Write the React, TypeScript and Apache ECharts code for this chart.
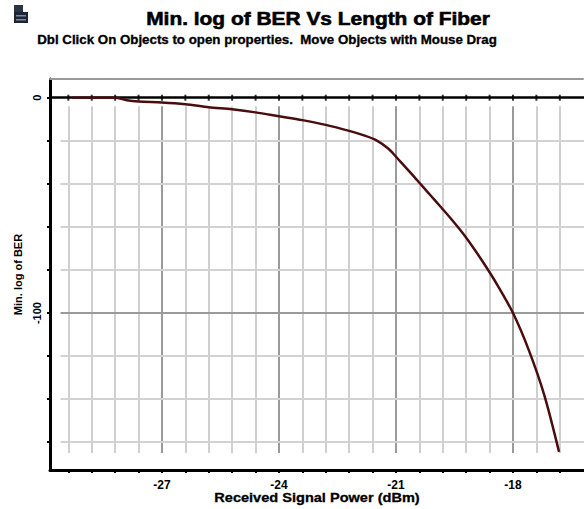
import React, { useEffect, useRef } from "react";
import * as echarts from "echarts";

const powerDbm = [-29.3, -28.2, -27.9, -27.6, -27.0, -26.4, -25.8, -25.2, -24.6, -24.0, -23.4, -22.8, -22.2, -21.8, -21.5, -21.2, -21.0, -20.8, -20.6, -20.4, -20.2, -20.0, -19.6, -19.2, -18.8, -18.4, -18.0, -17.6, -17.2, -16.82];
const minLogBer = [0, 0, -1.2, -1.8, -2.2, -3.0, -4.4, -5.4, -6.8, -8.6, -10.4, -12.6, -15.4, -17.6, -19.8, -23.6, -27.4, -31.4, -35.4, -39.5, -43.6, -47.7, -56, -65, -75.5, -87, -100, -117, -138, -164.5];

const xMajorTicks = [-27, -24, -21, -18];
const xMinorTicks = [-29.4, -28.8, -28.2, -27.6, -27, -26.4, -25.8, -25.2, -24.6, -24, -23.4, -22.8, -22.2, -21.6, -21, -20.4, -19.8, -19.2, -18.6, -18, -17.4, -16.8];
const yMajorTicks = [0, -100];
const yMinorTicks = [0, -20, -40, -60, -80, -100, -120, -140, -160];

const X_MIN = -29.87;
const X_MAX = -16.18;
const Y_MIN = -172.9;
const Y_MAX = 8.7;

const FONT = "'Liberation Sans', Arial, sans-serif";

export default function App() {
  const ref = useRef<HTMLDivElement>(null);
  useEffect(() => {
    document.body.style.margin = "0";
    const chart = echarts.init(ref.current!, undefined, { renderer: "svg" });

    const vLines = xMinorTicks.map((x) => {
      const major = xMajorTicks.some((m) => Math.abs(m - x) < 1e-6);
      return [
        { coord: [x, -4], lineStyle: { color: major ? "#9a9a9a" : "#cfcfcf", width: 2, type: "solid" } },
        { coord: [x, -165] },
      ];
    });
    const hLines = yMinorTicks
      .filter((y) => y !== 0)
      .map((y) => {
        const major = yMajorTicks.includes(y);
        return [
          { coord: [-29.6, y], lineStyle: { color: major ? "#9a9a9a" : "#d2d2d2", width: 2, type: "solid" } },
          { coord: [X_MAX, y] },
        ];
      });
    const zeroLine = [
      [
        { coord: [X_MIN, 0], lineStyle: { color: "#000", width: 2.5, type: "solid" } },
        { coord: [X_MAX, 0] },
      ],
    ];

    chart.setOption({
      animation: false,
      backgroundColor: "#ffffff",
      textStyle: { fontFamily: FONT },
      grid: { left: 50, top: 79, right: 0, bottom: 39 },
      graphic: [
        {
          type: "group",
          left: 14,
          top: 5,
          children: [
            { type: "rect", shape: { x: 0, y: 0, width: 9, height: 7 }, style: { fill: "#2b3445" } },
            { type: "rect", shape: { x: 0, y: 7, width: 14, height: 11 }, style: { fill: "#1d2433" } },
            { type: "rect", shape: { x: 2, y: 10, width: 10, height: 1.5 }, style: { fill: "#7d8aa3" } },
            { type: "rect", shape: { x: 2, y: 14, width: 10, height: 1.5 }, style: { fill: "#7d8aa3" } },
          ],
        },
        {
          type: "text",
          x: 318,
          y: 18,
          scaleX: 1.1,
          style: {
            text: "Min. log of BER Vs Length of Fiber",
            font: `bold 19px ${FONT}`,
            fill: "#000",
            stroke: "#000",
            lineWidth: 0.6,
            textAlign: "center",
            textVerticalAlign: "middle",
          },
        },
        {
          type: "text",
          x: 267,
          y: 40,
          scaleX: 1.11,
          style: {
            text: "Dbl Click On Objects to open properties.  Move Objects with Mouse Drag",
            font: `bold 12px ${FONT}`,
            fill: "#000",
            stroke: "#000",
            lineWidth: 0.3,
            textAlign: "center",
            textVerticalAlign: "middle",
          },
        },
        {
          type: "text",
          x: 317,
          y: 498,
          scaleX: 1.12,
          style: {
            text: "Received Signal Power (dBm)",
            font: `bold 13px ${FONT}`,
            fill: "#000",
            stroke: "#000",
            lineWidth: 0.3,
            textAlign: "center",
            textVerticalAlign: "middle",
          },
        },
      ],
      xAxis: [
        {
          type: "value",
          min: X_MIN,
          max: X_MAX,
          position: "bottom",
          axisLine: { show: true, onZero: false, lineStyle: { color: "#000", width: 3 } },
          axisTick: { show: true, customValues: xMinorTicks, length: 3, inside: false, lineStyle: { color: "#000", width: 2 } },
          axisLabel: {
            customValues: xMajorTicks,
            formatter: (v: number) => String(v),
            fontWeight: "bold",
            fontSize: 12,
            color: "#000",
            margin: 9,
            fontFamily: FONT,
          },
          splitLine: { show: false },
        },
        {
          type: "value",
          min: X_MIN,
          max: X_MAX,
          position: "top",
          axisLine: { show: true, onZero: false, lineStyle: { color: "#999", width: 2, type: [2, 1] } },
          axisTick: { show: false },
          axisLabel: { show: false },
          splitLine: { show: false },
        },
      ],
      yAxis: {
        type: "value",
        min: Y_MIN,
        max: Y_MAX,
        name: "Min. log of BER",
        nameLocation: "middle",
        nameGap: 21,
        nameRotate: 90,
        nameTextStyle: { fontWeight: "bold", fontSize: 11, color: "#000", fontFamily: FONT },
        axisLine: { show: true, onZero: false, lineStyle: { color: "#000", width: 3 } },
        axisTick: { show: true, customValues: yMinorTicks, length: 3, lineStyle: { color: "#000", width: 2 } },
        axisLabel: {
          customValues: yMajorTicks,
          formatter: (v: number) => String(v),
          rotate: 90,
          fontWeight: "bold",
          fontSize: 11,
          color: "#000",
          margin: 8,
          fontFamily: FONT,
        },
        splitLine: { show: false },
      },
      series: [
        {
          type: "line",
          data: [],
          silent: true,
          markLine: {
            silent: true,
            symbol: ["none", "none"],
            label: { show: false },
            data: [...vLines, ...hLines, ...zeroLine],
          },
        },
        {
          type: "scatter",
          silent: true,
          symbol: "rect",
          symbolSize: [2, 6],
          itemStyle: { color: "#000" },
          data: xMinorTicks.map((x) => [x, 0]),
          z: 3,
        },
        {
          type: "line",
          data: powerDbm.map((x, i) => [x, minLogBer[i]]),
          smooth: 0.3,
          showSymbol: false,
          lineStyle: { color: "#4a0d0d", width: 2.5 },
          z: 5,
        },
      ],
    });
    return () => chart.dispose();
  }, []);
  return <div ref={ref} style={{ position: "absolute", left: 0, top: 0, width: 584, height: 509 }} />;
}
